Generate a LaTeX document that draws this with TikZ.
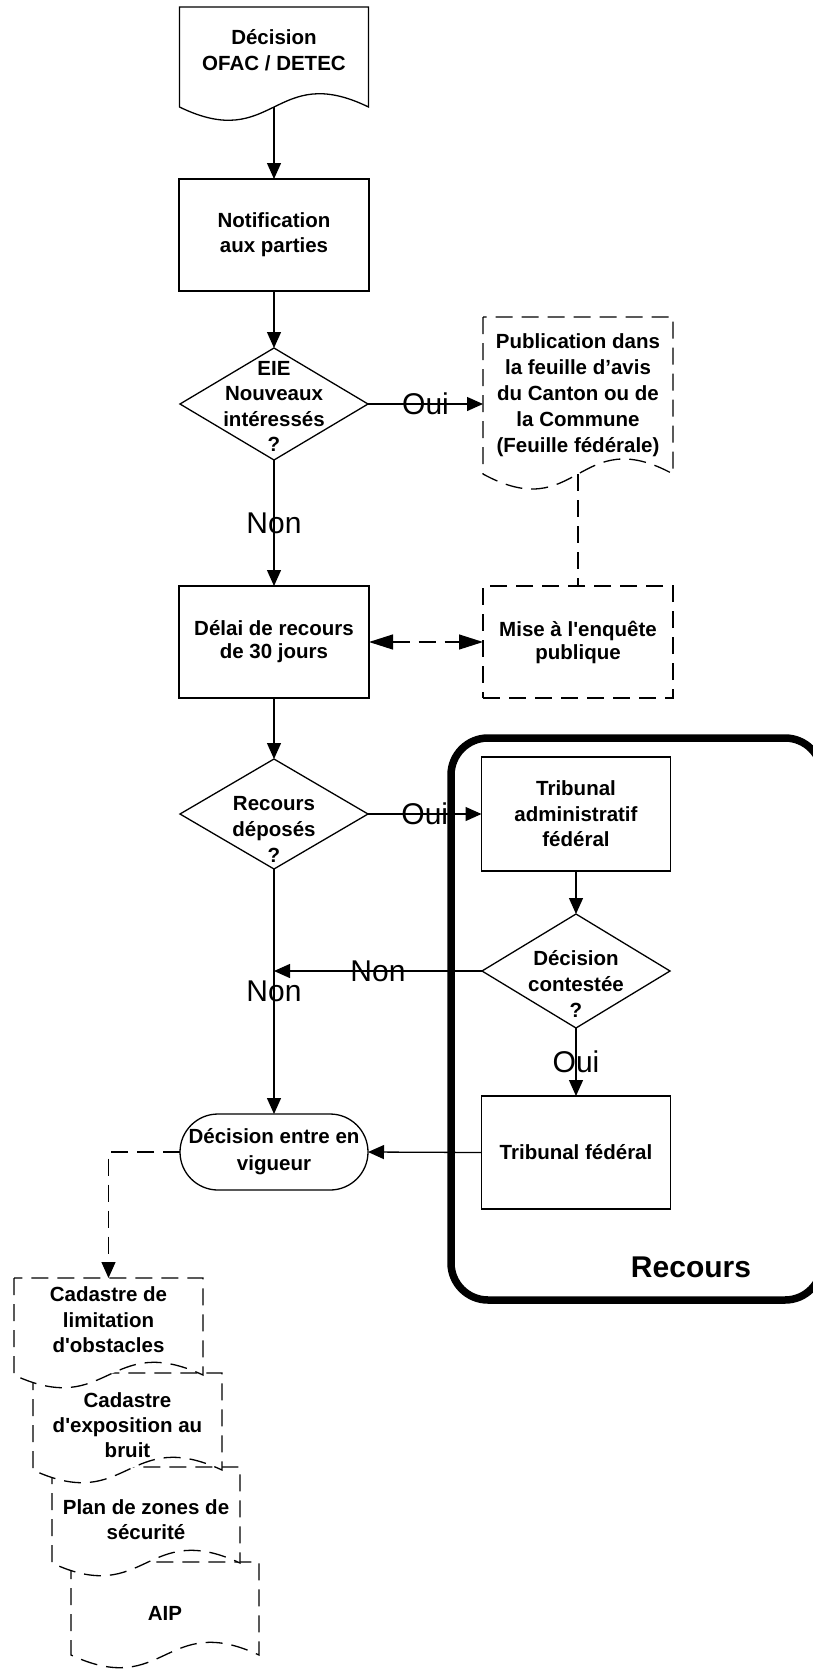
\documentclass[tikz,border=0pt]{standalone}
\usepackage{fontspec}
\newfontfamily\arial{Liberation Sans}
\usetikzlibrary{shapes.geometric,arrows.meta,calc}
\newcommand\docoutline[3][]{%
  \draw[line width=1.3pt, fill=white, #1] (#2.north west) -- (#2.south west)
    .. controls ($(#2.south)+(0,#3)$) and ($(#2.south)+(0,-#3)$) .. (#2.south east)
    -- (#2.north east) -- cycle;}
\begin{document}
\begin{tikzpicture}[x=1pt,y=-1pt,
  every node/.style={inner sep=0pt, outer sep=0pt},
  shp/.style={draw, line width=1.3pt, fill=white},
  boxr/.style={shp, rectangle, minimum width=190pt, minimum height=112pt},
  dia/.style={shp, diamond, minimum width=188pt, minimum height=112pt},
  docn/.style={rectangle, minimum width=189pt},
  dsh/.style={dash pattern=on 17pt off 9pt},
  txt/.style={font=\arial\bfseries\fontsize{20.5}{#1}\selectfont, align=center},
  txt/.default=25.5,
  lbl/.style={font=\arial\fontsize{30}{30}\selectfont},
  arr/.style={line width=1.3pt, -{Triangle[length=16pt,width=14pt]}},
  darr/.style={line width=1.3pt, dsh, {Triangle[length=24pt,width=15pt]}-{Triangle[length=24pt,width=15pt]}}
]
\useasboundingbox[fill=white] (0,0) rectangle (813,1670);

% Recours group
\node[draw, line width=7.5pt, rounded corners=37pt, minimum width=371pt, minimum height=562pt] (grp) at (636.5,1019) {};
\node[font=\arial\bfseries\fontsize{30}{30}\selectfont] (grplbl) at (691,1267) {Recours};

% top document
\node[docn, minimum height=100pt] (ofac) at (274,57) {};
\docoutline{ofac}{46}
\node[txt=26] (ofact) at (274,50) {Décision\\OFAC / DETEC};

\node[boxr, txt=25] (notif) at (274,235) {Notification\\aux parties};

\node[dia] (eie) at (274,404) {};
\node[txt=25.5] (eiet) at (274,406.5) {EIE\\Nouveaux\\intéressés\\?};

\node[docn, minimum width=190pt, minimum height=157pt] (pub) at (578,395.5) {};
\docoutline[dsh]{pub}{52}
\node[txt=26] (pubt) at (578,395) {Publication dans\\la feuille d’avis\\du Canton ou de\\la Commune\\(Feuille fédérale)};

\node[boxr, txt=23] (delai) at (274,642) {Délai de recours\\de 30 jours};
\node[boxr, dsh, txt=23] (mise) at (578,642) {Mise à l'enquête\\publique};

\node[dia, minimum height=110pt] (rec) at (274,814) {};
\node[txt=26] (rect) at (274,829) {Recours\\déposés\\?};

\node[boxr, minimum width=189pt, minimum height=114pt, txt=25.5] (tadm) at (576,814) {Tribunal\\administratif\\fédéral};

\node[dia, minimum height=114pt] (cont) at (576,971) {};
\node[txt=26] (contt) at (576,984) {Décision\\contestée\\?};

\node[boxr, minimum width=189pt, minimum height=113pt, txt] (tfed) at (576,1152.5) {Tribunal fédéral};

\node[shp, rectangle, rounded corners=38pt, minimum width=188pt, minimum height=76pt, txt=27] (vig) at (274,1152) {Décision entre en\\vigueur};

% stacked documents (bottom first)
\node[docn, minimum width=188pt, minimum height=93pt] (aip) at (165,1608.5) {};
\docoutline[dsh]{aip}{44}
\node[txt] (aipt) at (165,1613) {AIP};

\node[docn, minimum width=188pt, minimum height=96pt] (plan) at (146,1515) {};
\docoutline[dsh]{plan}{44}
\node[txt=25] (plant) at (146,1519.5) {Plan de zones de\\sécurité};

\node[docn, minimum height=97pt] (cad2) at (127.5,1421.5) {};
\docoutline[dsh]{cad2}{44}
\node[txt=25] (cad2t) at (127.5,1425) {Cadastre\\d'exposition au\\bruit};

\node[docn, minimum height=97pt] (cad1) at (108.5,1326.5) {};
\docoutline[dsh]{cad1}{44}
\node[txt=25.5] (cad1t) at (108.5,1320) {Cadastre de\\limitation\\d'obstacles};

% connectors
\draw[arr] (ofac.south) -- (notif.north);
\draw[arr] (notif.south) -- (eie.north);
\draw[arr] (eie.east) -- (eie.east -| pub.west) node[lbl, midway] {Oui};
\draw[arr] (eie.south) -- (delai.north) node[lbl, midway] {Non};
\draw[line width=1.3pt, dsh] (pub.south) -- (mise.north);
\draw[darr] (delai.east) -- (mise.west);
\draw[arr] (delai.south) -- (rec.north);
\draw[arr] (rec.east) -- (tadm.west) node[lbl, midway] {Oui};
\draw[arr] (tadm.south) -- (cont.north);
\coordinate (join) at (cont.west -| rec.south);
\draw[arr] (cont.west) -- (join) node[lbl, midway] {Non};
\draw[arr] (rec.south) -- (vig.north) node[lbl, midway] {Non};
\draw[arr] (cont.south) -- (tfed.north) node[lbl, midway] {Oui};
\draw[arr] (tfed.west) -- (vig.east);
\draw[arr, dsh] (vig.west) -| (cad1.north);
\end{tikzpicture}
\end{document}
